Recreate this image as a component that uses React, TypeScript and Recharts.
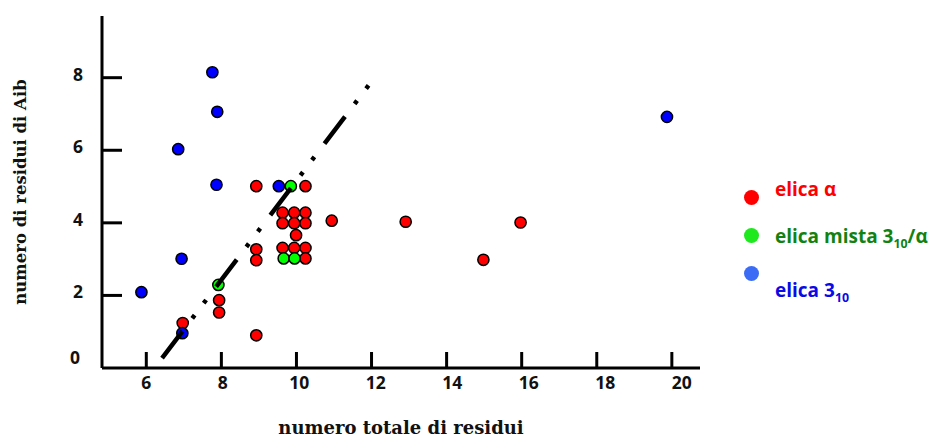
import React from 'react';
import { ScatterChart, Scatter, XAxis, YAxis, Legend } from 'recharts';

// tick values
const xTicks = [6, 8, 10, 12, 14, 16, 18, 20];
const yTicks = [0, 2, 4, 6, 8];

// elica alfa (rosso)
const alphaHelix = [
  { x: 8.93, y: 5.01 }, { x: 10.24, y: 5.01 },
  { x: 9.63, y: 4.28 }, { x: 9.94, y: 4.28 }, { x: 10.24, y: 4.28 },
  { x: 9.63, y: 3.99 }, { x: 9.94, y: 3.99 }, { x: 10.24, y: 3.99 },
  { x: 9.99, y: 3.66 },
  { x: 9.63, y: 3.31 }, { x: 9.94, y: 3.31 }, { x: 10.24, y: 3.31 },
  { x: 10.24, y: 3.02 },
  { x: 10.94, y: 4.06 }, { x: 12.91, y: 4.03 }, { x: 15.97, y: 4.01 }, { x: 14.98, y: 2.98 },
  { x: 8.93, y: 3.27 }, { x: 8.93, y: 2.97 },
  { x: 7.94, y: 1.87 }, { x: 7.94, y: 1.53 },
  { x: 6.97, y: 1.24 },
  { x: 8.93, y: 0.9 },
];

// elica mista 3-10 / alfa (verde)
const mixedHelix = [
  { x: 7.92, y: 2.29 }, { x: 9.85, y: 5.01 }, { x: 9.66, y: 3.02 }, { x: 9.95, y: 3.02 },
];

// elica 3-10 (blu)
const helix310 = [
  { x: 7.76, y: 8.15 }, { x: 7.89, y: 7.06 }, { x: 6.85, y: 6.03 }, { x: 7.87, y: 5.05 },
  { x: 9.53, y: 5.01 }, { x: 6.94, y: 3.01 }, { x: 5.87, y: 2.09 }, { x: 6.96, y: 0.96 },
  { x: 19.87, y: 6.92 },
];

// linea tratteggiata
const trendLine = [{ x: 6.42, y: 0.27 }, { x: 11.93, y: 7.8 }];

const tickFont: React.CSSProperties = {
  fontFamily: '"Open Sans", sans-serif',
  fontWeight: 700,
  fontSize: 17.5,
  fill: '#111',
};

const titleFont: React.CSSProperties = {
  fontFamily: '"DejaVu Serif", serif',
  fontWeight: 700,
  fill: '#111',
};

// labels in the original drift slightly right of their tick marks
const XTick = ({ x, y, payload }: any) => (
  <g>
    <line x1={x} y1={y} x2={x} y2={y - 16} stroke="#000" strokeWidth={3} />
    <text x={x + (payload.value - 6) * 0.7} y={y + 21} textAnchor="middle" style={tickFont}>{payload.value}</text>
  </g>
);

const YTick = ({ x, y, payload }: any) => (
  <g>
    {payload.value !== 0 && (
      <line x1={x} y1={y} x2={x + 20} y2={y} stroke="#000" strokeWidth={3} />
    )}
    <text x={payload.value === 0 ? x - 22 : x - 19} y={payload.value === 0 ? y - 4 : y + 3} textAnchor="end" style={tickFont}>
      {payload.value}
    </text>
  </g>
);

const dot = (fill: string) => (props: any) => (
  <circle cx={props.cx} cy={props.cy} r={5.6} fill={fill} stroke="#000" strokeWidth={1.5} />
);

const legendItems = [
  { key: 'alpha', dot: '#ff0000', color: '#ff0000', label: <>elica α</> },
  { key: 'mixed', dot: '#1ee81e', color: '#118211', label: <>elica mista 3<sub style={{ fontSize: '0.65em' }}>10</sub>/α</> },
  { key: 'h310', dot: '#3b6cf5', color: '#0a0ae6', label: <>elica 3<sub style={{ fontSize: '0.65em' }}>10</sub></> },
];

const LegendBox = () => (
  <div style={{ display: 'flex', fontFamily: '"Open Sans", sans-serif', fontWeight: 700, fontSize: 19 }}>
    <div style={{ paddingTop: 24, width: 15 }}>
      {legendItems.map((it) => (
        <div key={it.key} style={{ width: 15, height: 15, borderRadius: '50%', background: it.dot, marginBottom: 23 }} />
      ))}
    </div>
    <div style={{ marginLeft: 16 }}>
      {legendItems.map((it) => (
        <div key={it.key} style={{ color: it.color, lineHeight: '46.5px', whiteSpace: 'nowrap' }}>{it.label}</div>
      ))}
    </div>
  </div>
);

export default function App() {
  return (
    <div style={{ position: 'absolute', left: 0, top: 0, width: 935, height: 444, background: '#fff' }}>
      <ScatterChart width={935} height={444} margin={{ top: 16, right: 235, bottom: 26, left: 8 }}>
        <XAxis
          type="number"
          dataKey="x"
          domain={[4.82, 20.75]}
          ticks={xTicks}
          interval={0}
          height={50}
          axisLine={{ stroke: '#000', strokeWidth: 3 }}
          tickLine={false}
          tickSize={0}
          tickMargin={0}
          tick={<XTick />}
          label={{ value: 'numero totale di residui', position: 'bottom', offset: 3, style: { ...titleFont, fontSize: 18 } }}
        />
        <YAxis
          type="number"
          dataKey="y"
          domain={[0, 9.7]}
          ticks={yTicks}
          interval={0}
          width={94}
          axisLine={{ stroke: '#000', strokeWidth: 3 }}
          tickLine={false}
          tickSize={0}
          tickMargin={0}
          tick={<YTick />}
          label={{ value: 'numero di residui di Aib', angle: -90, position: 'insideLeft', offset: 12, style: { ...titleFont, fontSize: 16.5, textAnchor: 'middle' } }}
        />
        <Legend
          layout="horizontal"
          verticalAlign="middle"
          align="center"
          content={<LegendBox />}
          wrapperStyle={{ left: 744, top: 166, width: 191 }}
        />
        <Scatter name="elica α" data={alphaHelix} shape={dot('#ff0000')} isAnimationActive={false} />
        <Scatter name="elica mista" data={mixedHelix} shape={dot('#00ff00')} isAnimationActive={false} />
        <Scatter name="elica 3-10" data={helix310} shape={dot('#0000ff')} isAnimationActive={false} />
        <Scatter
          name="trend"
          data={trendLine}
          shape={() => <g />}
          line={{ stroke: '#000', strokeWidth: 4.5, strokeDasharray: '34 16 4 15 4 16.7' }}
          isAnimationActive={false}
        />
      </ScatterChart>
    </div>
  );
}
